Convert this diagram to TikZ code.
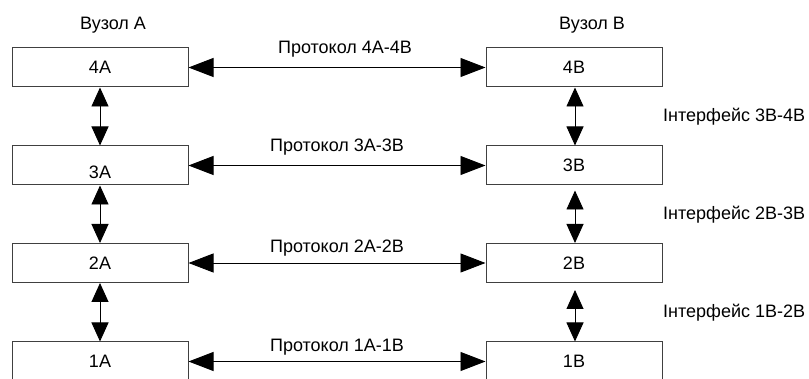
\documentclass[tikz,border=0pt]{standalone}
\usepackage{fontspec}
\setmainfont{Liberation Sans}
\usetikzlibrary{arrows.meta}

\tikzset{
  layerbox/.style={draw=black!75, line width=1pt, minimum width=176pt,
    minimum height=39pt, inner sep=0pt, fill=white},
  txt/.style={inner sep=0pt, font=\fontsize{18}{21}\selectfont},
  harrow/.style={line width=0.9pt, {Triangle[length=25pt,width=19pt]}-{Triangle[length=25pt,width=19pt]}},
  varrow/.style={line width=0.9pt, {Triangle[length=19pt,width=17pt]}-{Triangle[length=19pt,width=17pt]}},
}

\begin{document}
\begin{tikzpicture}[x=1pt,y=-1pt]
  \useasboundingbox (0,0) rectangle (809,379);
  \clip (0,0) rectangle (809,379);

  % node headings
  \node[txt] (hA) at (113,25) {Вузол А};
  \node[txt] (hB) at (592,25) {Вузол В};

  % layer stacks of the two nodes
  \node[layerbox, font=\fontsize{18}{21}\selectfont] (a4) at (100,67.5) {4А};
  \node[layerbox] (a3) at (100,165.5) {};
  \node[txt] (a3t) at (100,172) {3А};
  \node[layerbox, font=\fontsize{18}{21}\selectfont] (a2) at (100,263) {2А};
  \node[layerbox, font=\fontsize{18}{21}\selectfont] (a1) at (100,361.5) {1А};

  \node[layerbox, font=\fontsize{18}{21}\selectfont] (b4) at (574,67.5) {4В};
  \node[layerbox, font=\fontsize{18}{21}\selectfont] (b3) at (574,165.5) {3В};
  \node[layerbox, font=\fontsize{18}{21}\selectfont] (b2) at (574,263) {2В};
  \node[layerbox, font=\fontsize{18}{21}\selectfont] (b1) at (574,361.5) {1В};

  % peer protocols
  \draw[harrow] (a4.east) -- (b4.west);
  \draw[harrow] (a3.east) -- (b3.west);
  \draw[harrow] (a2.east) -- (b2.west);
  \draw[harrow] (a1.east) -- (b1.west);

  \node[txt] (p4) at (345,49) {Протокол 4А-4В};
  \node[txt] (p3) at (337,147) {Протокол 3А-3В};
  \node[txt] (p2) at (337,248) {Протокол 2А-2В};
  \node[txt] (p1) at (337,347) {Протокол 1А-1В};

  % interfaces between adjacent layers
  \draw[varrow] (a4.south) -- (a3.north);
  \draw[varrow] (a3.south) -- (a2.north);
  \draw[varrow] (a2.south) -- (a1.north);

  \draw[varrow] ([xshift=1pt]b4.south) -- ([xshift=1pt]b3.north);
  \draw[varrow, shorten <=5pt] ([xshift=1pt]b3.south) -- ([xshift=1pt]b2.north);
  \draw[varrow, shorten <=7pt] ([xshift=1pt]b2.south) -- ([xshift=1pt]b1.north);

  \node[txt, anchor=west] (i4) at (663,117) {Інтерфейс 3В-4В};
  \node[txt, anchor=west] (i3) at (663,215) {Інтерфейс 2В-3В};
  \node[txt, anchor=west] (i2) at (663,313) {Інтерфейс 1В-2В};
\end{tikzpicture}
\end{document}
